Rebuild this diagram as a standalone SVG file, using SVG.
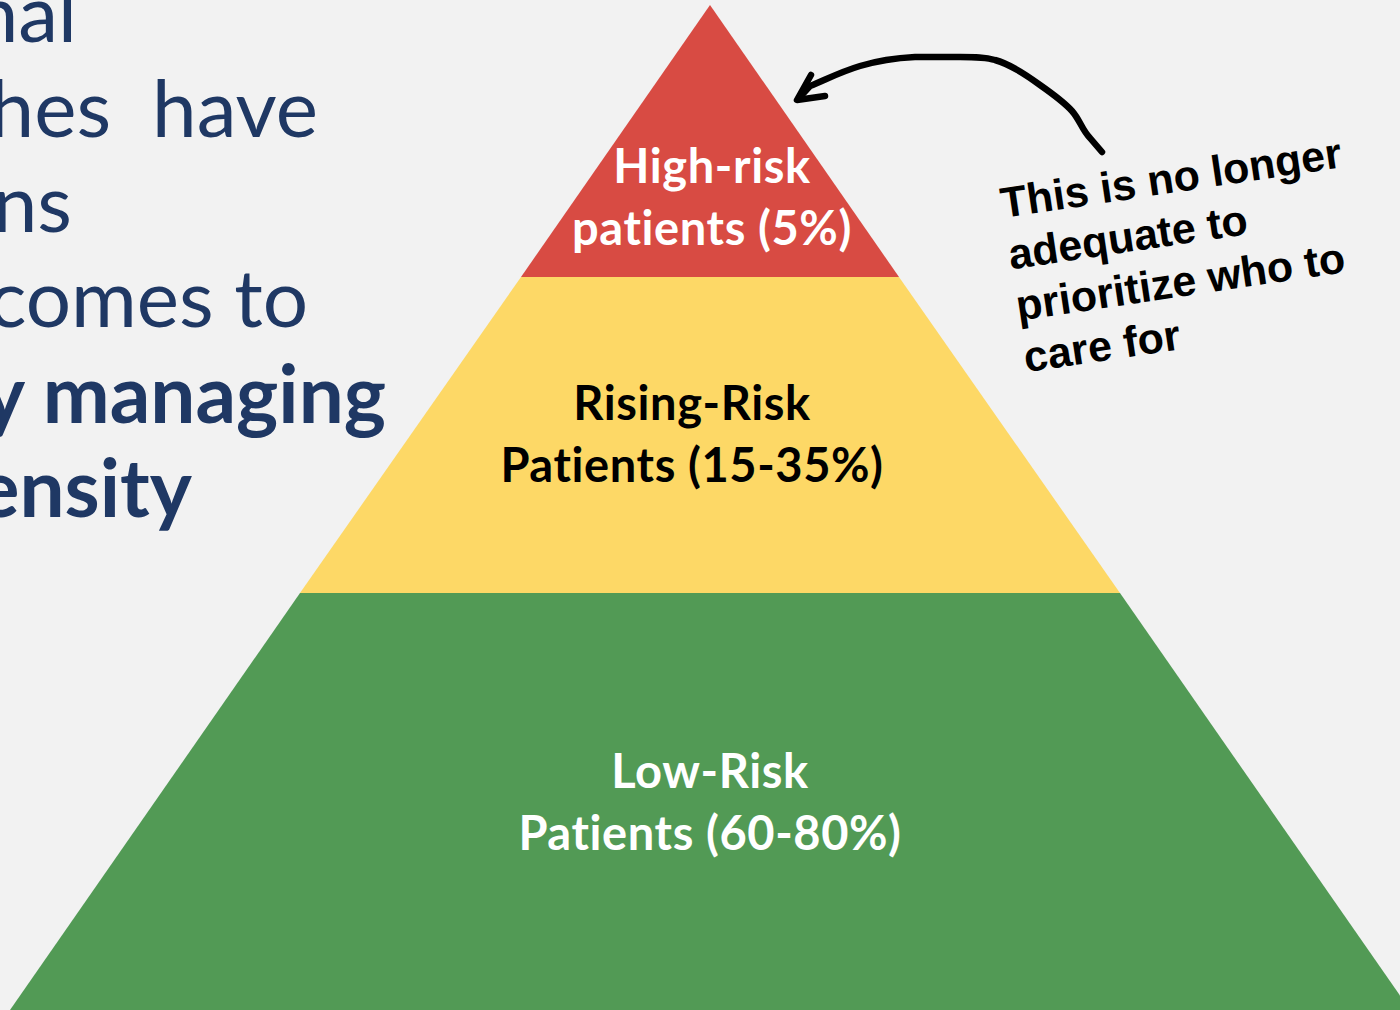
<svg xmlns="http://www.w3.org/2000/svg" width="1400" height="1010" viewBox="0 0 1400 1010">
<style>
.side{font-family:Lato,"Open Sans","Liberation Sans",sans-serif;font-size:80px;fill:#1f3864;text-anchor:end;white-space:pre}
.sideb{font-weight:bold}
.lbl{font-family:Lato,"Open Sans","Liberation Sans",sans-serif;font-weight:bold;font-size:47px;letter-spacing:0.6px;text-anchor:middle}
.note{font-family:"Liberation Sans",Arial,sans-serif;font-weight:bold;font-size:43px;fill:#000}
</style>
<rect width="1400" height="1010" fill="#f2f2f2"/>
<g id="side-text">
<text class="side" x="77" y="42">nal</text>
<text class="side" x="318" y="137">hes  have</text>
<text class="side" x="72" y="232">ns</text>
<text class="side" x="308" y="327">comes to</text>
<text class="side sideb" x="386" y="423">y managing</text>
<text class="side sideb" x="192" y="517">ensity</text>
</g>
<g id="tier-low">
<polygon points="300,593 1120,593 1410,1010 10,1010" fill="#529a55"/>
<text class="lbl" x="710" y="788" fill="#ffffff">Low-Risk</text>
<text class="lbl" x="710" y="850" fill="#ffffff">Patients (60-80%)</text>
</g>
<g id="tier-rising">
<polygon points="521,277 899,277 1120,593 300,593" fill="#fdd866"/>
<text class="lbl" x="692" y="420" fill="#000000">Rising-Risk</text>
<text class="lbl" x="692" y="482" fill="#000000">Patients (15-35%)</text>
</g>
<g id="tier-high">
<polygon points="710,5 899,277 521,277" fill="#d84b43"/>
<text class="lbl" x="712" y="183" fill="#ffffff">High-risk</text>
<text class="lbl" x="712" y="245" fill="#ffffff">patients (5%)</text>
</g>
<g id="connectors" fill="none" stroke="#000" stroke-width="6.5" stroke-linecap="round" stroke-linejoin="round">
<path d="M1102,152 L1090,138 C1082,130 1080,120 1072,111 C1064,102 1050,92 1040,85 C1025,74 1010,64 995,60 C985,57 975,57 960,57 L915,57 C895,58 880,60 860,66 C840,72 825,80 810,86 L799,98"/>
<path d="M811,75 L797,100 L825,96"/>
</g>
<g id="note" transform="translate(1003,218) rotate(-8.5)">
<text class="note" x="0" y="0">This is no longer</text>
<text class="note" x="0" y="52">adequate to</text>
<text class="note" x="0" y="104">prioritize who to</text>
<text class="note" x="0" y="156">care for</text>
</g>
</svg>
